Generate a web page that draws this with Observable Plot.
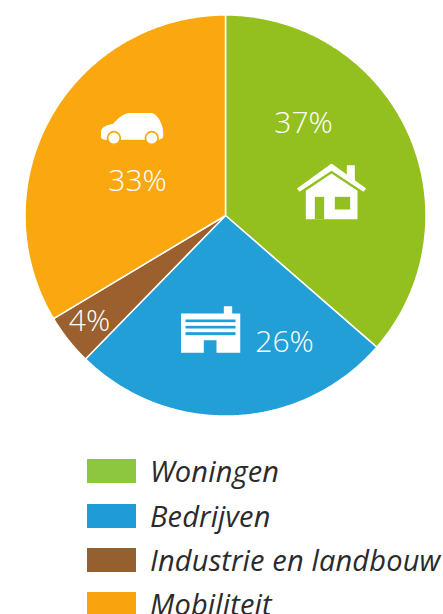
<!DOCTYPE html>
<html>
<head>
<meta charset="utf-8">
<script src="https://cdn.jsdelivr.net/npm/d3@7"></script>
<script src="https://cdn.jsdelivr.net/npm/@observablehq/plot@0.6"></script>
<style>
html,body{margin:0;padding:0;background:#fff;width:443px;height:614px;overflow:hidden}
#legend{position:absolute;left:87px;top:459px}
.row{position:absolute;left:0;white-space:nowrap;font:italic 29px "Open Sans",sans-serif;color:#2b2b2b;height:24px;line-height:24px;letter-spacing:.15px}
.sw{position:absolute;left:0;top:0;width:49px;height:24px}
.lb{position:absolute;left:63px;top:0}
</style>
</head>
<body>
<div id="chart"></div>
<div id="legend"></div>
<script>
const categories = ["Woningen", "Bedrijven", "Industrie en landbouw", "Mobiliteit"];
const shares = [36.4, 25.9, 4.1, 33.6];
const percentLabels = ["37%", "26%", "4%", "33%"];
const sliceColors = ["#93C01F", "#229FD7", "#9C5F2E", "#FBA70F"];
const legendColors = ["#8DC63F", "#1F9CD8", "#956030", "#F9A30F"];

const R = 200.5;
const pie = d3.pie().sort(null)(shares);
const outline = pie.flatMap((s, i) => {
  const n = Math.ceil((s.endAngle - s.startAngle) * 90);
  const pts = d3.range(n + 1).map(k => {
    const a = s.startAngle + (s.endAngle - s.startAngle) * k / n;
    return {name: categories[i], x: R * Math.sin(a), y: -R * Math.cos(a)};
  });
  const c = {name: categories[i], x: 0, y: 0};
  return [c, ...pts, c];
});

const labelSpots = [
  {t: percentLabels[0], x: 78, y: -92},
  {t: percentLabels[1], x: 59, y: 127},
  {t: percentLabels[2], x: -136, y: 106},
  {t: percentLabels[3], x: -88, y: -34}
];

const uri = s => "data:image/svg+xml," + encodeURIComponent(s);
const carSvg = `<svg xmlns="http://www.w3.org/2000/svg" viewBox="0 0 188 95"><path fill="#fff" d="M0,64C0,46 12,38 38,33C52,18 68,0 95,0L145,0C165,0 176,18 182,35C187,48 188,58 188,68C188,78 180,81 170,81L12,81C3,81 0,74 0,64Z"/><g fill="#fff" stroke="#FBA70F" stroke-width="5"><circle cx="40" cy="76" r="19"/><circle cx="153" cy="76" r="19"/></g></svg>`;
const houseSvg = `<svg xmlns="http://www.w3.org/2000/svg" viewBox="0 0 208 168"><path fill="#fff" d="M0,75L104,0L150,33V5H174V50L208,75L200,85L104,22L8,85Z"/><path fill="#fff" d="M27,82L104,30L182,82V168H27Z"/><rect fill="#93C01F" x="54" y="100" width="28" height="68"/><rect fill="#93C01F" x="114" y="100" width="46" height="38"/></svg>`;
const factorySvg = `<svg xmlns="http://www.w3.org/2000/svg" viewBox="0 0 180 140"><path fill="#fff" d="M0,22H130V0H155V22H180V140H108V102H70V140H0Z"/><g fill="#229FD7"><rect x="15" y="40" width="150" height="8"/><rect x="15" y="59" width="150" height="8"/><rect x="15" y="78" width="150" height="9"/></g></svg>`;

const icons = [
  {src: uri(carSvg), x: -93.5, y: -87, w: 63, h: 32},
  {src: uri(houseSvg), x: 106, y: -24, w: 70, h: 56},
  {src: uri(factorySvg), x: -15, y: 114, w: 60, h: 47}
];

const plot = Plot.plot({
  width: 443,
  height: 440,
  margin: 0,
  x: {domain: [-225, 218], axis: null},
  y: {domain: [-215, 225], reverse: true, axis: null},
  color: {domain: categories, range: sliceColors},
  marks: [
    Plot.line(outline, {x: "x", y: "y", z: "name", fill: "name", stroke: "#fff", strokeWidth: 1.5, strokeLinejoin: "miter"}),
    ...icons.map(d => Plot.image([d], {x: "x", y: "y", src: "src", width: d.w, height: d.h})),
    Plot.text(labelSpots, {x: "x", y: "y", text: "t", fill: "#fff", fontSize: 30, fontFamily: "Open Sans", fontWeight: 300})
  ]
});
document.getElementById("chart").appendChild(plot);

const tops = [0, 45, 89, 133];
const legend = document.getElementById("legend");
categories.forEach((c, i) => {
  const row = document.createElement("div");
  row.className = "row";
  row.style.top = tops[i] + "px";
  const sw = document.createElement("div");
  sw.className = "sw";
  sw.style.background = legendColors[i];
  const lb = document.createElement("div");
  lb.className = "lb";
  lb.textContent = c;
  row.append(sw, lb);
  legend.appendChild(row);
});
</script>
</body>
</html>
